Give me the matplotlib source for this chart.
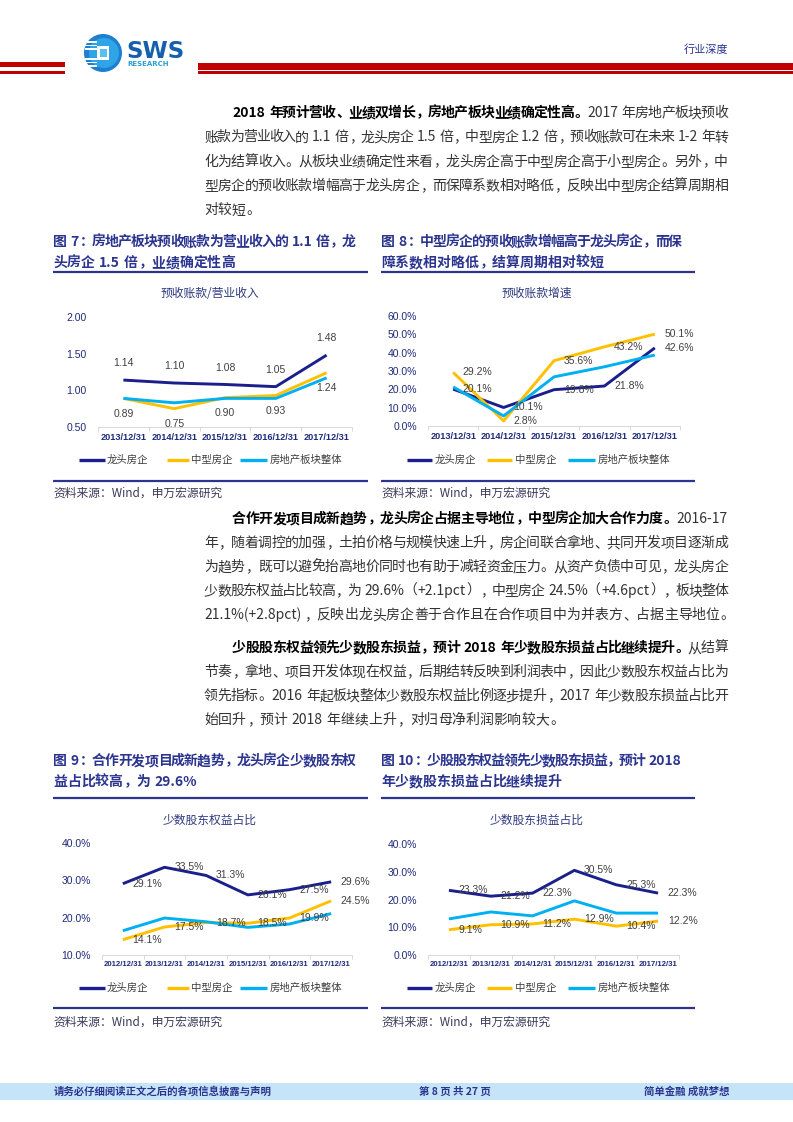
import matplotlib
matplotlib.use('Agg')
import matplotlib.pyplot as plt
from matplotlib.lines import Line2D
from matplotlib.patches import Rectangle, Circle
import numpy as np

# ---------------- data ----------------
dates_a = ['2013/12/31', '2014/12/31', '2015/12/31', '2016/12/31', '2017/12/31']
dates_b = ['2012/12/31', '2013/12/31', '2014/12/31', '2015/12/31', '2016/12/31', '2017/12/31']
series_names = ['龙头房企', '中型房企', '房地产板块整体']

c7_leader = [1.14, 1.10, 1.08, 1.05, 1.48]
c7_mid = [0.89, 0.75, 0.90, 0.93, 1.24]
c7_sector = [0.89, 0.83, 0.89, 0.89, 1.17]

c8_leader = [20.1, 10.1, 19.8, 21.8, 42.6]
c8_mid = [29.2, 2.8, 35.6, 43.2, 50.1]
c8_sector = [21.3, 5.5, 26.8, 32.3, 38.7]

c9_leader = [29.1, 33.5, 31.3, 26.1, 27.5, 29.6]
c9_mid = [14.1, 17.5, 18.7, 18.5, 19.9, 24.5]
c9_sector = [16.5, 19.9, 18.9, 17.4, 18.3, 21.1]

c10_leader = [23.3, 21.2, 22.3, 30.5, 25.3, 22.3]
c10_mid = [9.1, 10.9, 11.2, 12.9, 10.4, 12.2]
c10_sector = [13.0, 15.5, 14.1, 19.5, 15.1, 15.1]

chart_titles = ['预收账款/营业收入', '预收账款增速', '少数股东权益占比', '少数股东损益占比']
fig_titles = [
    ['图 7：房地产板块预收账款为营业收入的 1.1 倍，龙', '头房企 1.5 倍，业绩确定性高'],
    ['图 8：中型房企的预收账款增幅高于龙头房企，而保', '障系数相对略低，结算周期相对较短'],
    ['图 9：合作开发项目成新趋势，龙头房企少数股东权', '益占比较高，为 29.6%'],
    ['图 10：少股股东权益领先少数股东损益，预计 2018', '年少数股东损益占比继续提升'],
]
source_text = '资料来源：Wind，申万宏源研究'

para1 = [
    [('2018 年预计营收、业绩双增长，房地产板块业绩确定性高。', True), ('2017 年房地产板块预收', False)],
    [('账款为营业收入的 1.1 倍，龙头房企 1.5 倍，中型房企 1.2 倍，预收账款可在未来 1-2 年转', False)],
    [('化为结算收入。从板块业绩确定性来看，龙头房企高于中型房企高于小型房企。另外，中', False)],
    [('型房企的预收账款增幅高于龙头房企，而保障系数相对略低，反映出中型房企结算周期相', False)],
    [('对较短。', False)],
]
para2 = [
    [('合作开发项目成新趋势，龙头房企占据主导地位，中型房企加大合作力度。', True), ('2016-17', False)],
    [('年，随着调控的加强，土拍价格与规模快速上升，房企间联合拿地、共同开发项目逐渐成', False)],
    [('为趋势，既可以避免抬高地价同时也有助于减轻资金压力。从资产负债中可见，龙头房企', False)],
    [('少数股东权益占比较高，为 29.6%（+2.1pct），中型房企 24.5%（+4.6pct），板块整体', False)],
    [('21.1%(+2.8pct)，反映出龙头房企善于合作且在合作项目中为并表方、占据主导地位。', False)],
]
para3 = [
    [('少股股东权益领先少数股东损益，预计 2018 年少数股东损益占比继续提升。', True), ('从结算', False)],
    [('节奏，拿地、项目开发体现在权益，后期结转反映到利润表中，因此少数股东权益占比为', False)],
    [('领先指标。2016 年起板块整体少数股东权益比例逐步提升，2017 年少数股东损益占比开', False)],
    [('始回升，预计 2018 年继续上升，对归母净利润影响较大。', False)],
]
footer_left = '请务必仔细阅读正文之后的各项信息披露与声明'
footer_mid = '第 8 页 共 27 页'
footer_right = '简单金融 成就梦想'
header_tag = '行业深度'

# ---------------- setup ----------------
W, H = 793, 1122
fig = plt.figure(figsize=(W / 100, H / 100), dpi=100)
renderer = fig.canvas.get_renderer()
CJK = ['Noto Sans CJK SC', 'DejaVu Sans']
NUM = ['Liberation Sans', 'DejaVu Sans']
NAVY = '#2B3590'
C_LEAD, C_MID, C_SEC = '#1B1F8C', '#FFC000', '#00B0F0'
C_AXIS = '#1F2B7A'
C_LAB = '#404040'


def fx(x):
    return x / W


def fy(y):
    return 1 - y / H


PUNCT_L = set('，。、：；！？）')
PUNCT_R = set('（')


def is_cjk(ch):
    return ord(ch) > 0x2E80


def tokenize(segs):
    toks = []
    for text, bold in segs:
        pending = False
        buf = ''
        buf_sp = False
        for ch in text:
            if ch == ' ':
                if buf:
                    toks.append([buf, bold, 'a', buf_sp])
                    buf = ''
                pending = True
            elif is_cjk(ch):
                if buf:
                    toks.append([buf, bold, 'a', buf_sp])
                    buf = ''
                toks.append([ch, bold, 'c', pending])
                pending = False
            else:
                if not buf:
                    buf_sp = pending
                    pending = False
                buf += ch
        if buf:
            toks.append([buf, bold, 'a', buf_sp])
    return toks


def draw_line(segs, x0, x1, yc, fs, color, bcolor, justify=True):
    toks = tokenize(segs)
    em = fs / 72 * 100
    widths = []
    for t, b, k, sp in toks:
        if k == 'c':
            widths.append(em)
        else:
            tt = fig.text(0, 0, t, fontsize=fs, family=CJK, weight='bold' if b else 'normal')
            w = tt.get_window_extent(renderer).width
            tt.remove()
            widths.append(w + 0.1 * em)
    sp_w = 0.25 * em
    natural = sum(widths) + sp_w * sum(1 for tk in toks if tk[3])
    gaps = len(toks) - 1
    extra = (x1 - x0 - natural) / gaps if (justify and gaps > 0) else 0
    x = x0
    yb = yc + 0.37 * em
    for (t, b, k, sp), w in zip(toks, widths):
        if sp:
            x += sp_w
        kw = dict(fontsize=fs, family=CJK, weight='bold' if b else 'normal',
                  color=bcolor if b else color, va='baseline')
        if k == 'c':
            if t in PUNCT_L:
                fig.text(fx(x + 0.08 * em), fy(yb), t, ha='left', **kw)
            elif t in PUNCT_R:
                fig.text(fx(x + 0.92 * em), fy(yb), t, ha='right', **kw)
            else:
                fig.text(fx(x + em / 2), fy(yb), t, ha='center', **kw)
        else:
            fig.text(fx(x + 0.05 * em), fy(yb), t, ha='left', **kw)
        x += w + extra


def paragraph(lines, y0, dy):
    for i, segs in enumerate(lines):
        x0 = 232 if i == 0 else 204
        last = (i == len(lines) - 1)
        draw_line(segs, x0, 728, y0 + i * dy, 10, '#333333', '#000000', justify=not last)


def hline(x0, x1, y, color, lw):
    fig.add_artist(Line2D([fx(x0), fx(x1)], [fy(y), fy(y)], color=color, lw=lw,
                          transform=fig.transFigure, solid_capstyle='butt'))


def rect(x0, y0, x1, y1, color):
    fig.add_artist(Rectangle((fx(x0), fy(y1)), (x1 - x0) / W, (y1 - y0) / H,
                             transform=fig.transFigure, color=color, lw=0))


# ---------------- header ----------------
rect(0, 62, 65, 67, '#C00000')
rect(0, 71.5, 65, 73.5, '#C00000')
rect(198, 63, 793, 69.5, '#C00000')
rect(198, 71.5, 793, 73.5, '#C00000')

logo_ax = fig.add_axes([fx(82), fy(74), 42 / W, 42 / H])
logo_ax.set_xlim(0, 42)
logo_ax.set_ylim(42, 0)
logo_ax.set_aspect('equal')
logo_ax.axis('off')
logo_ax.add_patch(Circle((21, 21), 19, color='#1E7FD0', lw=0))
logo_ax.add_patch(Circle((22, 21), 15, color='#2FA5E8', lw=0))
for yy in (9, 12.5, 16, 26, 29.5, 33):
    logo_ax.add_patch(Rectangle((3, yy), 12, 1.6, color='white', lw=0))
logo_ax.add_patch(Rectangle((15, 14), 12, 14, color='white', lw=0))
logo_ax.add_patch(Rectangle((18, 17), 7, 8, color='#5BC0F0', lw=0))

fig.text(fx(126), fy(51), 'SWS', fontsize=16.5, weight='bold', family=['DejaVu Sans'],
         color='#1560AC', ha='left', va='center')
fig.text(fx(127), fy(64.5), 'RESEARCH', fontsize=5, weight='bold', family=['DejaVu Sans'],
         color='#2A9FD8', ha='left', va='center')
fig.text(fx(728), fy(50), header_tag, fontsize=8, family=CJK, color=NAVY, ha='right', va='center')

# ---------------- paragraphs ----------------
paragraph(para1, 112, 24.3)
paragraph(para2, 518, 24.0)
paragraph(para3, 647, 24.0)


# ---------------- charts ----------------
def chart(box, cats, leader, mid, sector, ylim, yticks, yfmt, lfmt, mode, xfs):
    l, r, t, b = box
    ax = fig.add_axes([fx(l), fy(b), (r - l) / W, (b - t) / H])
    x = np.arange(len(cats))
    for vals, c in ((leader, C_LEAD), (mid, C_MID), (sector, C_SEC)):
        ax.plot(x, vals, color=c, lw=2.1, solid_joinstyle='round', solid_capstyle='butt', clip_on=False)
    ax.set_xlim(-0.5, len(cats) - 0.5)
    ax.set_ylim(*ylim)
    ax.set_yticks(yticks)
    ax.set_yticklabels([yfmt(v) for v in yticks], fontsize=7.5, family=NUM, color=C_AXIS)
    ax.set_xticks(x)
    ax.set_xticklabels(cats, fontsize=xfs, family=NUM, weight='bold', color=C_AXIS)
    ax.set_xticks(np.arange(len(cats) + 1) - 0.5, minor=True)
    ax.tick_params(axis='x', which='major', length=0, pad=4)
    ax.tick_params(axis='x', which='minor', length=3, color='#D9D9D9', width=0.75)
    ax.tick_params(axis='y', length=0, pad=8)
    for s in ('top', 'right', 'left'):
        ax.spines[s].set_visible(False)
    ax.spines['bottom'].set_color('#D9D9D9')
    ax.spines['bottom'].set_linewidth(0.75)
    ax.patch.set_alpha(0)
    if mode == 'updown':
        for i, v in enumerate(leader):
            ax.annotate(lfmt(v), (i, v), xytext=(0, 12), textcoords='offset points',
                        ha='center', va='center', fontsize=7.5, family=NUM, color=C_LAB)
        for i, v in enumerate(mid):
            ax.annotate(lfmt(v), (i, v), xytext=(0, -11), textcoords='offset points',
                        ha='center', va='center', fontsize=7.5, family=NUM, color=C_LAB)
    else:
        for vals in (leader, mid):
            for i, v in enumerate(vals):
                ax.annotate(lfmt(v), (i, v), xytext=(7, 0), textcoords='offset points',
                            ha='left', va='center', fontsize=7.5, family=NUM, color=C_LAB)
    return ax


def legend(y, xs):
    for (xa, xb, xt), c, name in zip(xs, (C_LEAD, C_MID, C_SEC), series_names):
        fig.add_artist(Line2D([fx(xa), fx(xb)], [fy(y), fy(y)], color=c, lw=2.4,
                              transform=fig.transFigure, solid_capstyle='butt'))
        fig.text(fx(xt), fy(y), name, fontsize=7.5, family=CJK, color=C_LAB, ha='left', va='center')


LEG_L = [(79, 105, 107), (167, 189, 191), (240, 267, 270)]
LEG_R = [(407, 432, 435), (487, 512, 515), (568, 595, 598)]

pct = lambda v: f'{v:.1f}%'
chart((98, 352, 317, 427), dates_a, c7_leader, c7_mid, c7_sector, (0.5, 2.0),
      [0.5, 1.0, 1.5, 2.0], lambda v: f'{v:.2f}', lambda v: f'{v:.2f}', 'updown', 6.6)
chart((428, 680, 316, 426), dates_a, c8_leader, c8_mid, c8_sector, (0, 60),
      [0, 10, 20, 30, 40, 50, 60], pct, pct, 'right', 6.6)
chart((102, 352, 843, 955), dates_b, c9_leader, c9_mid, c9_sector, (10, 40),
      [10, 20, 30, 40], pct, pct, 'right', 5.6)
chart((428, 679, 844, 955), dates_b, c10_leader, c10_mid, c10_sector, (0, 40),
      [0, 10, 20, 30, 40], pct, pct, 'right', 5.6)

legend(460, LEG_L)
legend(460, LEG_R)
legend(988, LEG_L)
legend(988, LEG_R)

# figure titles, rules, sources
blocks = [
    (53, 356, 368, 241, 262, 272, 481, 493, 210, 293),
    (381, 682, 695, 241, 262, 272, 481, 493, 537, 293),
    (53, 356, 368, 760, 781, 798, 1008, 1022, 210, 820),
    (381, 682, 695, 760, 781, 798, 1008, 1022, 537, 820),
]
for (x0, x1, xr, ty1, ty2, ruley, boty, srcy, ctx, cty), (t1, t2), ct in zip(blocks, fig_titles, chart_titles):
    draw_line([(t1, True)], x0, x1, ty1, 10, NAVY, NAVY, justify=True)
    draw_line([(t2, True)], x0, x1, ty2, 10, NAVY, NAVY, justify=False)
    hline(x0, xr, ruley, NAVY, 1.6)
    hline(x0, xr, boty, NAVY, 1.6)
    fig.text(fx(x0), fy(srcy), source_text, fontsize=8.5, family=CJK, color='#3A3A5A',
             ha='left', va='center')
    fig.text(fx(ctx), fy(cty), ct, fontsize=8.5, family=CJK, color='#2F3A80',
             ha='center', va='center')

# ---------------- footer ----------------
rect(0, 1083, 793, 1100, '#C6E4F8')
fig.text(fx(54), fy(1091.5), footer_left, fontsize=7.5, family=CJK, color=NAVY, weight='bold',
         ha='left', va='center')
fig.text(fx(455), fy(1091.5), footer_mid, fontsize=7.5, family=CJK, color=NAVY, weight='bold',
         ha='center', va='center')
fig.text(fx(729), fy(1091.5), footer_right, fontsize=7.5, family=CJK, color=NAVY, weight='bold',
         ha='right', va='center')

fig.savefig('out.png', dpi=100)
